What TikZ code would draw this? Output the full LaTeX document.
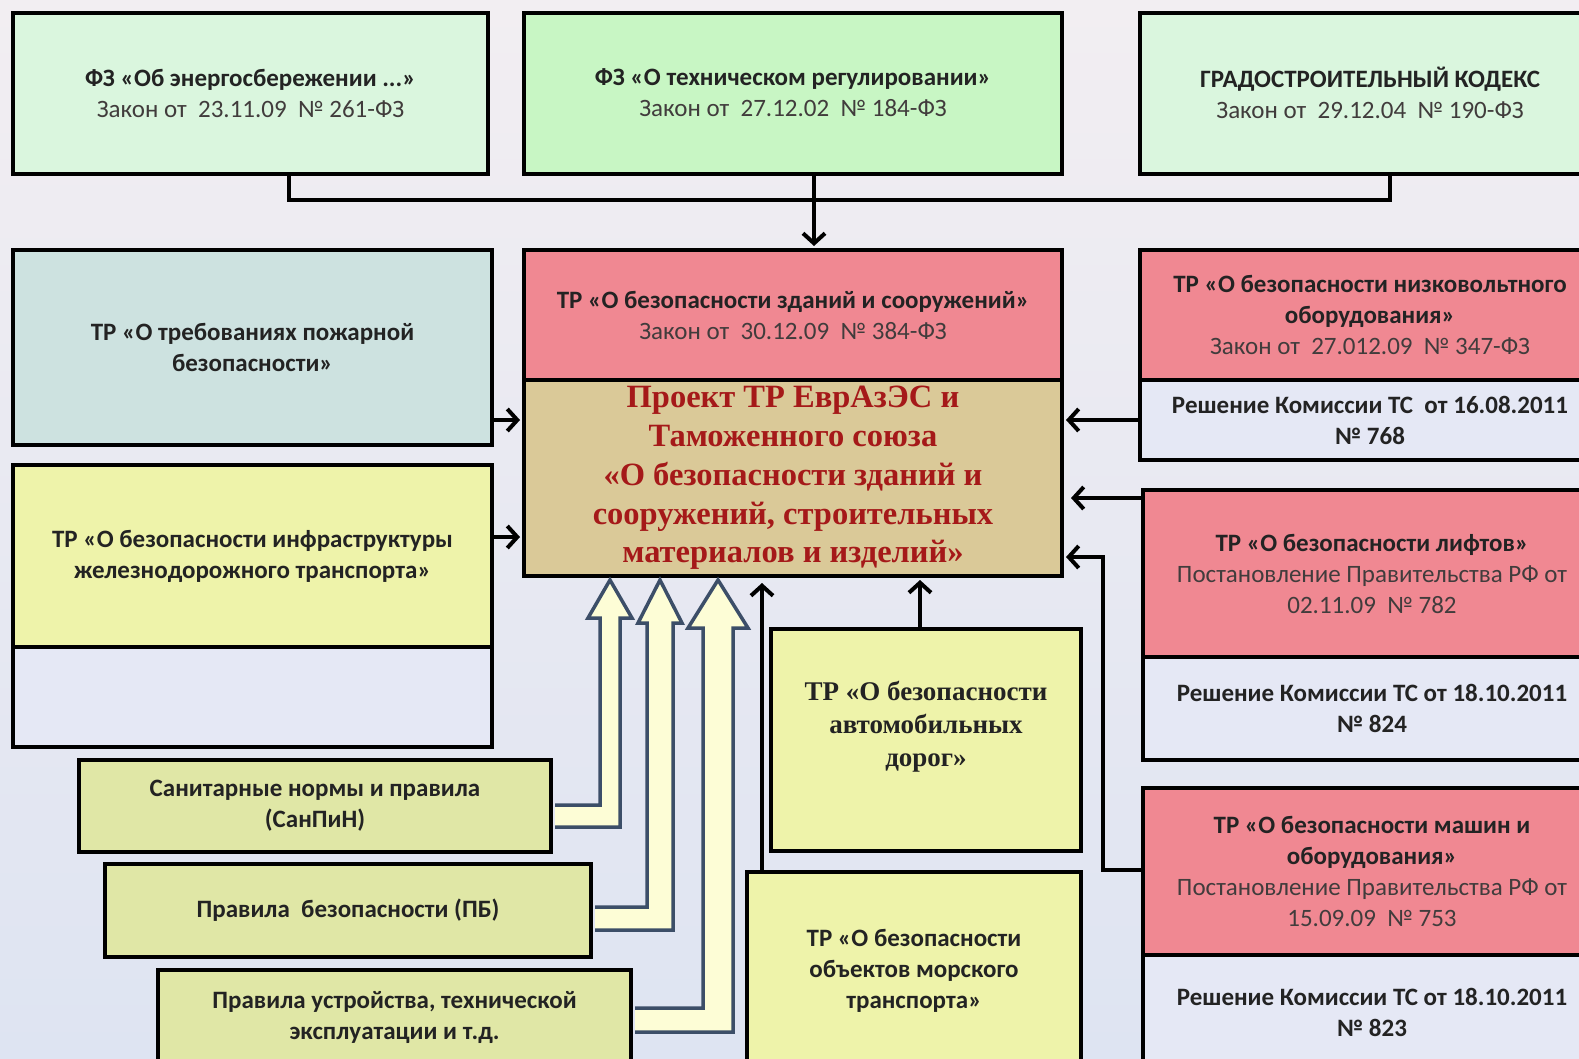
\documentclass[tikz,border=0pt]{standalone}
\usepackage{fontspec}
\setmainfont{Carlito}
\newfontfamily\serifru{Liberation Serif}
\usetikzlibrary{arrows.meta,calc}

\definecolor{bgtop}{RGB}{242,238,242}
\definecolor{bgmid}{RGB}{214,221,244}
\definecolor{bgbot}{RGB}{222,228,242}
\definecolor{mintA}{RGB}{218,246,222}
\definecolor{mintB}{RGB}{200,246,196}
\definecolor{tealbox}{RGB}{205,226,224}
\definecolor{redbox}{RGB}{240,136,146}
\definecolor{tanbox}{RGB}{218,201,152}
\definecolor{yelbox}{RGB}{238,243,170}
\definecolor{olivebox}{RGB}{224,231,166}
\definecolor{palebox}{RGB}{229,232,245}
\definecolor{txtdark}{RGB}{35,35,35}
\definecolor{txtgray}{RGB}{65,60,60}
\definecolor{projred}{RGB}{165,25,25}
\definecolor{fatline}{RGB}{60,78,104}
\definecolor{fatfill}{RGB}{253,253,214}

\begin{document}
\begin{tikzpicture}[x=1pt, y=-1pt,
    box/.style={draw=black, line width=4pt, inner sep=0pt, align=center, text=txtdark,
      font=\bfseries\fontsize{25}{31}\selectfont},
    conn/.style={draw=black, line width=4pt},
    barb/.style={-{Straight Barb[length=10pt,width=22pt]}, shorten >=2pt},
    fat/.style={draw=fatline, line width=3.5pt, fill=fatfill, line join=miter}]
    \useasboundingbox (0,0) rectangle (1579,1058);
    \clip (0,0) rectangle (1579,1058);
    \shade[top color=bgtop, middle color=bgmid, bottom color=bgbot] (0,0) rectangle (1579,1058);

    % Top row
    \node[box, fill=mintA, minimum width=475pt, minimum height=161pt] (fzE) at (250.5,93)
      {ФЗ «Об энергосбережении ...»\\\mdseries\color{txtgray}Закон от~ 23.11.09~ № 261-ФЗ};
    \node[box, fill=mintB, minimum width=538pt, minimum height=161pt] (fzT) at (793,93)
      {ФЗ «О техническом регулировании»\\\mdseries\color{txtgray}Закон от~ 27.12.02~ № 184-ФЗ};
    \node[box, fill=mintA, minimum width=460pt, minimum height=161pt] (grk) at (1370,93)
      {ГРАДОСТРОИТЕЛЬНЫЙ КОДЕКС\\\mdseries\color{txtgray}Закон от~ 29.12.04~ № 190-ФЗ};

    % Middle column
    \node[box, fill=redbox, minimum width=538pt, minimum height=130pt] (trzs) at (793,315)
      {ТР «О безопасности зданий и сооружений»\\\mdseries\color{txtgray}Закон от~ 30.12.09~ № 384-ФЗ};
    \node[box, fill=tanbox, minimum width=538pt, minimum height=196pt, text=projred,
      font=\serifru\bfseries\fontsize{32.5}{38.8}\selectfont] (proekt) at (793,478)
      {Проект ТР ЕврАзЭС и\\Таможенного союза\\«О безопасности зданий и\\сооружений, строительных\\материалов и изделий»};
    \node[box, fill=yelbox, minimum width=310pt, minimum height=222pt,
      font=\serifru\bfseries\fontsize{27}{33}\selectfont] (avto) at (926,740)
      {ТР «О безопасности\\автомобильных\\дорог»\\\mbox{}};
    \node[box, fill=yelbox, minimum width=334pt, minimum height=198pt] (more) at (914,971)
      {ТР «О безопасности\\объектов морского\\транспорта»};

    % Left column
    \node[box, fill=tealbox, minimum width=479pt, minimum height=195pt] (pozh) at (252.5,347.5)
      {ТР «О требованиях пожарной\\безопасности»};
    \node[box, fill=yelbox, minimum width=479pt, minimum height=182pt] (zhd) at (252.5,556)
      {ТР «О безопасности инфраструктуры\\железнодорожного транспорта»};
    \node[box, fill=palebox, minimum width=479pt, minimum height=100pt] (pust) at (252.5,697) {};
    \node[box, fill=olivebox, minimum width=472pt, minimum height=92pt] (sanpin) at (315,806)
      {Санитарные нормы и правила\\(СанПиН)};
    \node[box, fill=olivebox, minimum width=486pt, minimum height=93pt] (pb) at (348,910.5)
      {Правила~ безопасности (ПБ)};
    \node[box, fill=olivebox, minimum width=473pt, minimum height=94pt] (pue) at (394.5,1017)
      {Правила устройства, технической\\эксплуатации и т.д.};

    % Right column
    \node[box, fill=redbox, minimum width=460pt, minimum height=130pt] (nizk) at (1370,315)
      {ТР «О безопасности низковольтного\\оборудования»\\\mdseries\color{txtgray}Закон от~ 27.012.09~ № 347-ФЗ};
    \node[box, fill=palebox, minimum width=460pt, minimum height=80pt] (r768) at (1370,420)
      {Решение Комиссии ТС~ от 16.08.2011\\№ 768};
    \node[box, fill=redbox, minimum width=458pt, minimum height=167pt] (lift) at (1372,573.5)
      {ТР «О безопасности лифтов»\\\mdseries\color{txtgray}Постановление Правительства РФ от\\\mdseries\color{txtgray}02.11.09~ № 782};
    \node[box, fill=palebox, minimum width=458pt, minimum height=103pt] (r824) at (1372,708.5)
      {Решение Комиссии ТС от 18.10.2011\\№ 824};
    \node[box, fill=redbox, minimum width=458pt, minimum height=167pt] (mash) at (1372,871.5)
      {ТР «О безопасности машин и\\оборудования»\\\mdseries\color{txtgray}Постановление Правительства РФ от\\\mdseries\color{txtgray}15.09.09~ № 753};
    \node[box, fill=palebox, minimum width=458pt, minimum height=115pt] (r823) at (1372,1012.5)
      {Решение Комиссии ТС от 18.10.2011\\№ 823};

    % Arrows from the laws
    \draw[conn] (fzE.south -| 289,0) -- (289,200) -- (1390,200) -- (grk.south -| 1390,0);
    \draw[conn, barb] (fzT.south -| 814,0) -- (trzs.north -| 814,0);

    \draw[conn, barb] (pozh.east |- 0,420) -- (proekt.west |- 0,420);
    \draw[conn, barb] (zhd.east |- 0,537) -- (proekt.west |- 0,537);

    \draw[conn, barb] (r768.west) -- (r768.west -| proekt.east);
    \draw[conn, barb, shorten >=7pt] (lift.west |- 0,498) -- (proekt.east |- 0,498);
    \draw[conn, barb] (mash.west |- 0,870) -- (1103,870) -- (1103,557) -- (proekt.east |- 0,557);

    \draw[conn, barb] (avto.north -| 920,0) -- (proekt.south -| 920,0);
    \draw[conn, barb, shorten >=5pt] (more.north -| 762,0) -- (proekt.south -| 762,0);

    % Fat arrows
    \filldraw[fat] ($(sanpin.east)+(2,-1)$) -- (600,805) -- (600,618) -- (588,618) -- (610,580)
      -- (632,618) -- (620,618) -- (620,827) -- ($(sanpin.east)+(2,21)$);
    \filldraw[fat] ($(pb.east)+(2,-3.5)$) -- (647,907) -- (647,623) -- (638,623) -- (660,580)
      -- (682,623) -- (673,623) -- (673,930) -- ($(pb.east)+(2,19.5)$);
    \filldraw[fat] ($(pue.east)+(2,-9)$) -- (703,1008) -- (703,628) -- (688,628) -- (718,580)
      -- (748,628) -- (733,628) -- (733,1032) -- ($(pue.east)+(2,15)$);
\end{tikzpicture}
\end{document}
